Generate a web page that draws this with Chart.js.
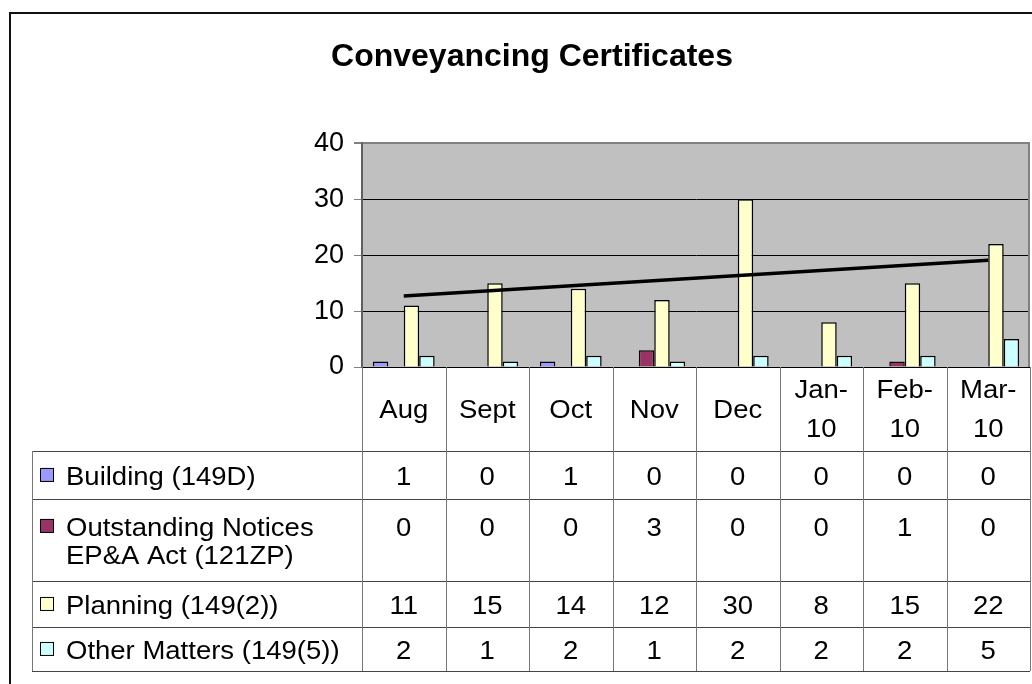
<!DOCTYPE html>
<html><head><meta charset="utf-8">
<script src="https://cdn.jsdelivr.net/npm/chart.js@4/dist/chart.umd.min.js"></script>
<style>html,body{margin:0;padding:0;background:#fff;} #wrap{width:1032px;height:684px;position:relative;}</style>
</head><body><div id="wrap"><canvas id="c" width="1032" height="684"></canvas></div>
<script>
// ---- data ----
const categories = ['Aug','Sept','Oct','Nov','Dec','Jan-10','Feb-10','Mar-10'];
const seriesNames = ['Building (149D)','Outstanding Notices EP&A Act (121ZP)','Planning (149(2))','Other Matters (149(5))'];
const building = [1,0,1,0,0,0,0,0];
const outstanding = [0,0,0,3,0,0,1,0];
const planning = [11,15,14,12,30,8,15,22];
const otherMatters = [2,1,2,1,2,2,2,5];
const trendPlanning = [12.7,null,null,null,null,null,null,19.1];
const yTicks = [0,10,20,30,40];

// ---- styles ----
const FONT = "'Liberation Sans', Arial, sans-serif";
const colors = ['#9999FF','#993366','#FFFFCC','#CCFFFF'];
const seriesValues = [building, outstanding, planning, otherMatters];
const TFS = 25, SX = 1.1;

function hline(ctx,x1,y1,x2,y2){ctx.beginPath();ctx.moveTo(x1,y1);ctx.lineTo(x2,y2);ctx.stroke();}
function stretchText(ctx,t,x,y,align){ctx.save();ctx.translate(x,y);ctx.scale(SX,1);ctx.textAlign=align;ctx.fillText(t,0,0);ctx.restore();}

const framePlugin = {
  id:'frame',
  beforeDraw(chart){
    const {ctx, chartArea:a} = chart;
    ctx.save();
    ctx.fillStyle='#fff'; ctx.fillRect(0,0,chart.width,chart.height);
    ctx.fillStyle='#C0C0C0'; ctx.fillRect(a.left,a.top,a.right-a.left,a.bottom-a.top);
    ctx.strokeStyle='#111'; ctx.lineWidth=2; ctx.strokeRect(10,13,1100,1000);
    ctx.restore();
  },
  afterDatasetsDraw(chart){
    const {ctx, chartArea:a} = chart;
    ctx.save(); ctx.strokeStyle='#808080'; ctx.lineWidth=2;
    hline(ctx,a.right-1,a.top,a.right-1,a.bottom);
    ctx.restore();
  }
};

const tablePlugin = {
  id:'dataTable',
  afterDraw(chart){
    const {ctx, chartArea:a, scales:{x}} = chart;
    const n = categories.length;
    const cw = (a.right-a.left)/n;
    const tableLeft = 32, labelX = 66, keyX = 40, keySize = 14;
    const rowLines = [a.bottom, 451, 499, 581, 627, 671];
    ctx.save();
    ctx.font = TFS+'px '+FONT;
    ctx.fillStyle='#000';
    ctx.textBaseline='alphabetic';
    // grid
    ctx.lineWidth=1;
    ctx.strokeStyle='#444';
    for(let r=1;r<rowLines.length;r++) hline(ctx,tableLeft,rowLines[r]+0.5,a.right,rowLines[r]+0.5);
    ctx.strokeStyle='#777';
    for(let i=0;i<=n;i++){const xx=Math.round(a.left+i*cw)+0.5; hline(ctx,xx,a.bottom,xx,rowLines[5]);}
    hline(ctx,tableLeft+0.5,rowLines[1],tableLeft+0.5,rowLines[5]);
    const capH = 0.716*TFS;
    // header
    const hc = (rowLines[0]+rowLines[1])/2;
    categories.forEach((c,i)=>{
      const lines = c.split(/(?<=-)/);
      const cx = x.getPixelForValue(i);
      const gap = 39;
      lines.forEach((t,k)=>{
        const yb = hc + capH/2 + (k-(lines.length-1)/2)*gap;
        stretchText(ctx,t,cx,yb,'center');
      });
    });
    // rows
    const maxW = (a.left - labelX - 6)/SX;
    seriesNames.forEach((name,r)=>{
      const words = name.split(' '); const lines=[]; let cur='';
      words.forEach(w=>{const test = cur?cur+' '+w:w; if(ctx.measureText(test).width>maxW && cur){lines.push(cur);cur=w;} else cur=test;});
      lines.push(cur);
      const top=rowLines[r+1], bot=rowLines[r+2];
      const mid=(top+bot)/2, gap=28;
      const first = mid + capH/2 - (lines.length-1)/2*gap + 1;
      lines.forEach((t,k)=>stretchText(ctx,t,labelX,first+k*gap,'left'));
      ctx.fillStyle=colors[r]; ctx.fillRect(keyX,first-17,keySize,keySize);
      ctx.strokeStyle='#000'; ctx.strokeRect(keyX+0.5,first-16.5,keySize-1,keySize-1);
      ctx.fillStyle='#000';
      seriesValues[r].forEach((v,i)=>stretchText(ctx,String(v),x.getPixelForValue(i),first,'center'));
    });
    ctx.restore();
  }
};

new Chart(document.getElementById('c'),{
  type:'bar',
  data:{
    labels:categories,
    datasets:[
      {type:'line',label:'Linear (Planning (149(2)))',data:trendPlanning,borderColor:'#000',borderWidth:3.5,pointRadius:0,spanGaps:true,order:0},
      ...seriesValues.map((vals,i)=>({type:'bar',label:seriesNames[i],data:vals.map(v=>v===0?null:v),backgroundColor:colors[i],borderColor:'#000',borderWidth:1.5,borderSkipped:'bottom',categoryPercentage:0.74,barPercentage:1,order:1}))
    ]
  },
  options:{
    responsive:false, animation:false, devicePixelRatio:1,
    layout:{padding:{left:34,right:2,top:0,bottom:317}},
    plugins:{
      legend:{display:false}, tooltip:{enabled:false},
      title:{display:true,text:'Conveyancing Certificates',color:'#000',font:{family:FONT,size:32,weight:'bold'},padding:{top:38,bottom:67}}
    },
    scales:{
      x:{display:false,offset:true},
      y:{min:0,max:40,
        afterBuildTicks:s=>{s.ticks=yTicks.map(v=>({value:v}));},
        afterFit:s=>{s.width=328;},
        ticks:{color:'#000',font:{family:FONT,size:27},padding:10},
        grid:{color:c=>c.tick&&c.tick.value===40?'#808080':'#000',tickColor:'#808080',tickLength:8,lineWidth:c=>c.tick&&c.tick.value===40?2:1},
        border:{color:'#606060',width:2}
      }
    }
  },
  plugins:[framePlugin,tablePlugin]
});
</script></body></html>
